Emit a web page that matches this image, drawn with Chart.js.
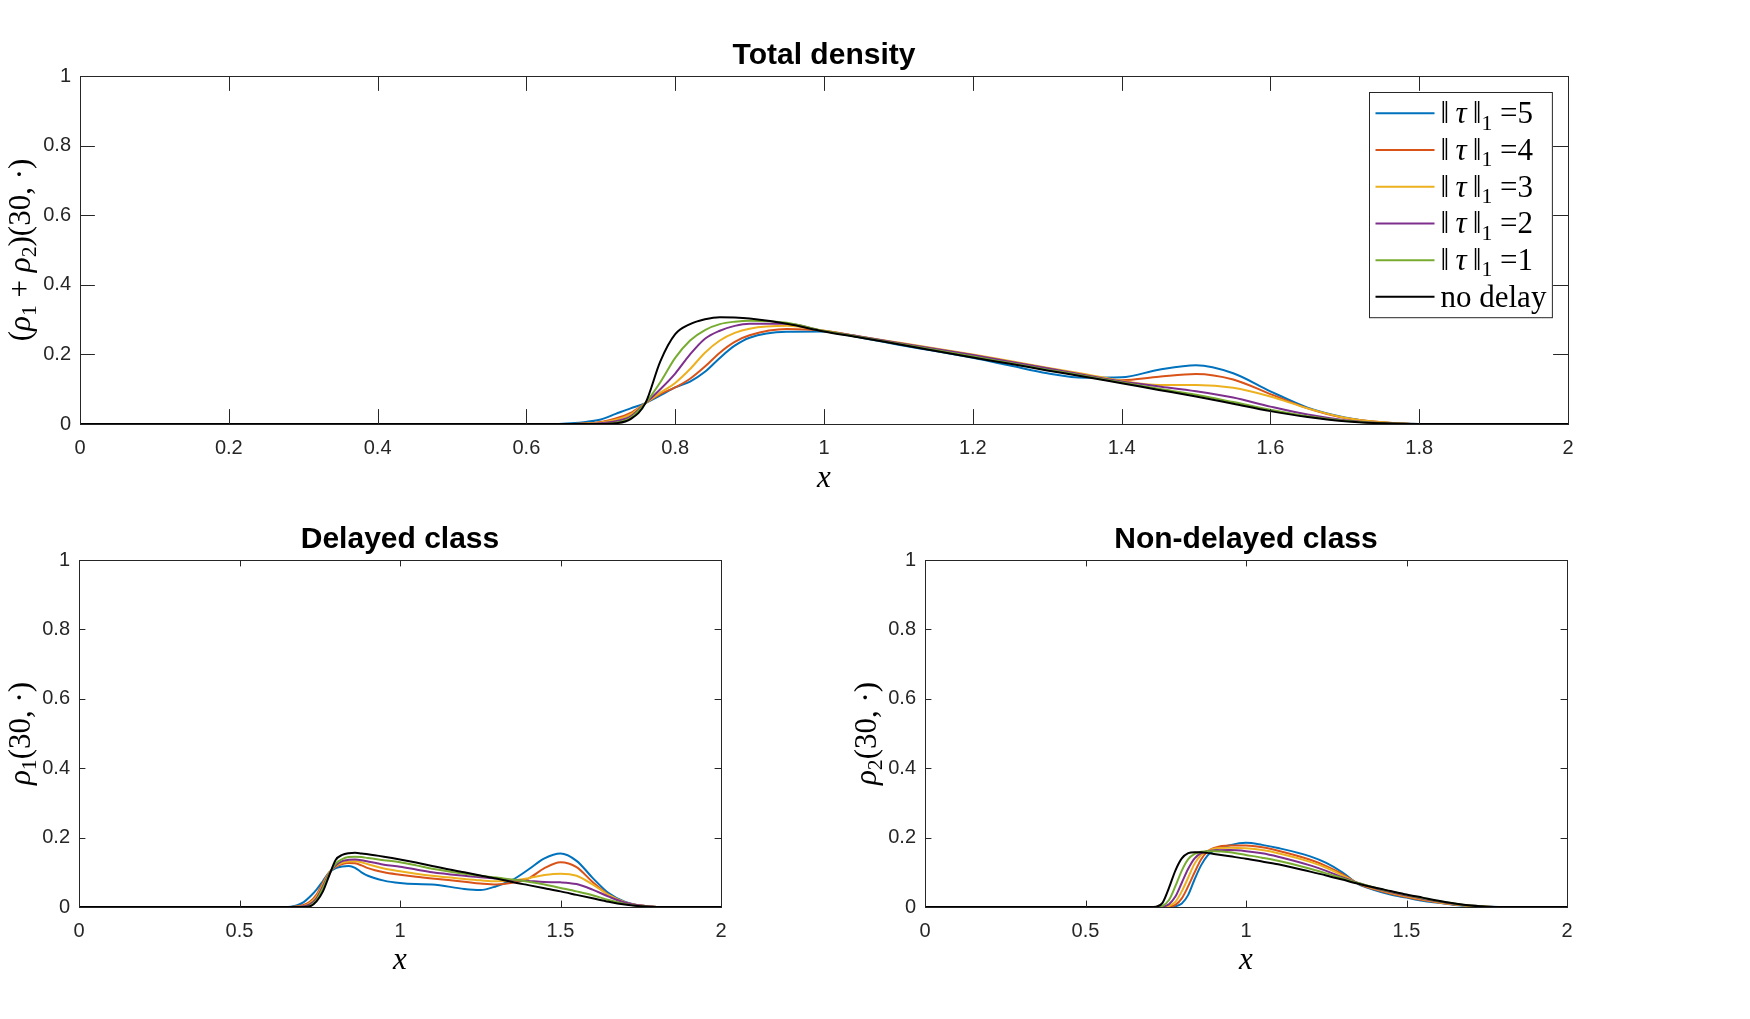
<!DOCTYPE html>
<html>
<head>
<meta charset="utf-8">
<script src="https://cdn.jsdelivr.net/npm/chart.js@4.4.0/dist/chart.umd.min.js"></script>
<style>
  html, body { margin: 0; padding: 0; background: #fff; width: 1750px; height: 1019px; overflow: hidden; }
  canvas { position: absolute; }
</style>
</head>
<body>
<canvas id="total" width="1750" height="500" style="left:0;top:0;width:1750px;height:500px"></canvas>
<canvas id="delayed" width="846" height="490" style="left:0;top:500px;width:846px;height:490px"></canvas>
<canvas id="nondelayed" width="904" height="490" style="left:846px;top:500px;width:904px;height:490px"></canvas>
<script>
// shared x grid
const xs = [0, 0.6, 0.64, 0.66, 0.68, 0.7, 0.72, 0.74, 0.76, 0.78, 0.8, 0.82, 0.84, 0.86, 0.88, 0.9, 0.95, 1.0, 1.05, 1.1, 1.2, 1.25, 1.3, 1.35, 1.4, 1.45, 1.5, 1.55, 1.6, 1.65, 1.7, 1.75, 1.8, 2.0];

const labels = ['‖τ‖_1 =5', '‖τ‖_1 =4', '‖τ‖_1 =3', '‖τ‖_1 =2', '‖τ‖_1 =1', 'no delay'];
const colors = ['#0072BD', '#D95319', '#EDB120', '#7E2F8E', '#77AC30', '#000000'];

// total density (rho1 + rho2)(30, .)
const total5 = [0,0,0,0.002,0.006,0.013,0.029,0.045,0.06,0.082,0.105,0.122,0.15,0.19,0.225,0.248,0.265,0.266,0.248,0.228,0.19,0.168,0.146,0.133,0.134,0.156,0.169,0.146,0.094,0.047,0.019,0.004,0,0];
const total4 = [0,0,0,0,0.002,0.006,0.016,0.032,0.06,0.086,0.105,0.13,0.165,0.205,0.236,0.255,0.273,0.268,0.25,0.232,0.196,0.177,0.157,0.139,0.126,0.136,0.144,0.128,0.086,0.045,0.017,0.005,0,0];
const total3 = [0,0,0,0,0.001,0.004,0.012,0.028,0.06,0.09,0.118,0.158,0.205,0.24,0.262,0.274,0.282,0.268,0.251,0.234,0.2,0.181,0.162,0.144,0.124,0.112,0.112,0.104,0.079,0.045,0.018,0.005,0,0];
const total2 = [0,0,0,0,0,0.002,0.008,0.022,0.06,0.1,0.145,0.2,0.245,0.268,0.282,0.288,0.288,0.267,0.251,0.233,0.198,0.179,0.16,0.141,0.122,0.108,0.094,0.076,0.05,0.027,0.011,0.003,0,0];
const total1 = [0,0,0,0,0,0,0.004,0.018,0.06,0.12,0.19,0.24,0.27,0.287,0.294,0.297,0.291,0.267,0.249,0.231,0.194,0.175,0.156,0.138,0.119,0.101,0.084,0.063,0.041,0.022,0.009,0.002,0,0];
const total0 = [0,0,0,0,0,0,0.002,0.014,0.06,0.18,0.258,0.287,0.301,0.307,0.306,0.303,0.288,0.266,0.248,0.229,0.191,0.173,0.154,0.136,0.117,0.098,0.079,0.058,0.037,0.02,0.008,0.002,0,0];

// delayed class rho1(30, .)
const rho1_5 = [0,0,0,0.001,0.005,0.014,0.03,0.05,0.075,0.1,0.112,0.117,0.118,0.113,0.1,0.09,0.076,0.069,0.066,0.065,0.052,0.049,0.06,0.078,0.108,0.14,0.154,0.133,0.084,0.04,0.015,0.004,0,0];
const rho1_4 = [0,0,0,0,0.002,0.006,0.016,0.036,0.07,0.1,0.116,0.124,0.127,0.126,0.12,0.112,0.1,0.093,0.087,0.082,0.073,0.068,0.065,0.07,0.082,0.112,0.129,0.115,0.072,0.035,0.013,0.004,0,0];
const rho1_3 = [0,0,0,0,0.001,0.003,0.012,0.03,0.065,0.1,0.118,0.127,0.131,0.132,0.129,0.123,0.111,0.103,0.096,0.09,0.081,0.077,0.074,0.076,0.083,0.092,0.096,0.09,0.065,0.035,0.014,0.004,0,0];
const rho1_2 = [0,0,0,0,0,0.002,0.008,0.025,0.06,0.097,0.12,0.132,0.136,0.137,0.135,0.131,0.122,0.116,0.108,0.1,0.09,0.086,0.082,0.078,0.075,0.072,0.071,0.066,0.05,0.03,0.013,0.004,0,0];
const rho1_1 = [0,0,0,0,0,0,0.004,0.02,0.055,0.095,0.125,0.138,0.144,0.145,0.144,0.141,0.135,0.129,0.12,0.11,0.096,0.09,0.085,0.079,0.073,0.065,0.055,0.045,0.034,0.02,0.009,0.002,0,0];
const rho1_0 = [0,0,0,0,0,0,0.002,0.016,0.045,0.092,0.136,0.15,0.155,0.156,0.154,0.152,0.145,0.137,0.128,0.118,0.1,0.091,0.082,0.072,0.063,0.054,0.045,0.035,0.025,0.015,0.007,0.002,0,0];

// non-delayed class rho2(30, .)
const rho2_5 = [0,0,0,0,0,0,0,0,0,0.002,0.01,0.035,0.08,0.12,0.148,0.163,0.178,0.185,0.179,0.17,0.146,0.127,0.1,0.066,0.049,0.036,0.027,0.018,0.012,0.006,0.002,0.001,0,0];
const rho2_4 = [0,0,0,0,0,0,0,0,0.001,0.006,0.025,0.06,0.1,0.137,0.16,0.17,0.177,0.177,0.172,0.162,0.136,0.118,0.095,0.067,0.051,0.039,0.029,0.02,0.013,0.007,0.003,0.001,0,0];
const rho2_3 = [0,0,0,0,0,0,0,0,0.003,0.015,0.045,0.085,0.125,0.15,0.162,0.168,0.171,0.169,0.164,0.155,0.13,0.113,0.091,0.068,0.053,0.041,0.031,0.022,0.014,0.008,0.003,0.001,0,0];
const rho2_2 = [0,0,0,0,0,0,0,0.001,0.008,0.03,0.07,0.11,0.14,0.155,0.161,0.163,0.164,0.161,0.155,0.145,0.12,0.104,0.086,0.069,0.055,0.043,0.033,0.024,0.016,0.009,0.004,0.001,0,0];
const rho2_1 = [0,0,0,0,0,0,0,0.003,0.02,0.06,0.105,0.138,0.153,0.159,0.161,0.161,0.158,0.15,0.142,0.133,0.11,0.097,0.083,0.069,0.056,0.045,0.035,0.026,0.017,0.01,0.004,0.001,0,0];
const rho2_0 = [0,0,0,0,0,0,0.001,0.012,0.055,0.105,0.14,0.155,0.158,0.158,0.156,0.153,0.146,0.139,0.131,0.123,0.102,0.091,0.079,0.067,0.056,0.046,0.036,0.027,0.018,0.01,0.004,0.001,0,0];

const xTicksTop = [0, 0.2, 0.4, 0.6, 0.8, 1, 1.2, 1.4, 1.6, 1.8, 2];
const xTicksBottom = [0, 0.5, 1, 1.5, 2];
const yTicks = [0, 0.2, 0.4, 0.6, 0.8, 1];

const axisColor = '#262626';
const sansFont = '"Liberation Sans", Arial, sans-serif';
const serifFont = '"Liberation Serif", "Times New Roman", serif';

// split "‖τ‖_1 =5" into pieces: greek letters / x italic, "_d" subscript
function parseMath(str) {
  const segs = [];
  for (let i = 0; i < str.length; i++) {
    let ch = str[i], sub = false;
    if (ch === '_') { sub = true; ch = str[++i]; }
    const it = 'ρτx'.includes(ch);
    const last = segs[segs.length - 1];
    if (last && last.i === it && last.sub === sub) last.t += ch;
    else segs.push({ t: ch, i: it, sub: sub });
  }
  return segs;
}

function segFont(s, size) {
  return (s.i ? 'italic ' : '') + (s.sub ? size * 0.7 : size) + 'px ' + serifFont;
}

function mathWidth(ctx, str, size) {
  let w = 0;
  parseMath(str).forEach(s => {
    ctx.font = segFont(s, size);
    w += ctx.measureText(s.t).width;
  });
  return w;
}

function drawMath(ctx, str, x, y, size, center) {
  let cx = center ? x - mathWidth(ctx, str, size) / 2 : x;
  ctx.textAlign = 'left';
  ctx.textBaseline = 'alphabetic';
  parseMath(str).forEach(s => {
    ctx.font = segFont(s, size);
    ctx.fillText(s.t, cx, y + (s.sub ? size * 0.2 : 0));
    cx += ctx.measureText(s.t).width;
  });
}

// box round the axes, inward ticks on all four sides, math y label, legend
const axesDecor = {
  id: 'axesDecor',
  afterDraw(chart, args, opts) {
    const { ctx, chartArea: a, scales } = chart;
    const len = (a.right - a.left) * 0.01;
    ctx.save();
    ctx.strokeStyle = axisColor;
    ctx.lineWidth = 1;
    ctx.beginPath();
    scales.x.ticks.forEach(t => {
      const p = Math.round(scales.x.getPixelForValue(t.value)) + 0.5;
      ctx.moveTo(p, a.bottom); ctx.lineTo(p, a.bottom - len);
      ctx.moveTo(p, a.top); ctx.lineTo(p, a.top + len);
    });
    scales.y.ticks.forEach(t => {
      const p = Math.round(scales.y.getPixelForValue(t.value)) + 0.5;
      ctx.moveTo(a.left, p); ctx.lineTo(a.left + len, p);
      ctx.moveTo(a.right, p); ctx.lineTo(a.right - len, p);
    });
    ctx.stroke();
    ctx.strokeRect(Math.round(a.left) + 0.5, Math.round(a.top) + 0.5, Math.round(a.right - a.left), Math.round(a.bottom - a.top));

    // y label
    ctx.fillStyle = '#000';
    ctx.save();
    ctx.translate(opts.yLabelX, (a.top + a.bottom) / 2);
    ctx.rotate(-Math.PI / 2);
    drawMath(ctx, opts.yLabel, 0, opts.labelSize * 0.25, opts.labelSize, true);
    ctx.restore();

    if (opts.legend) {
      const size = 31, rowH = 36.7;
      const sets = chart.data.datasets;
      let tw = 0;
      sets.forEach(d => { tw = Math.max(tw, mathWidth(ctx, d.text, size)); });
      const w = 71 + tw + 6, h = sets.length * rowH + 5;
      const left = Math.round(a.right - 16 - w) + 0.5, top = Math.round(a.top + 16) + 0.5;
      ctx.fillStyle = '#fff';
      ctx.fillRect(left, top, w, h);
      ctx.strokeStyle = axisColor;
      ctx.strokeRect(left, top, w, h);
      sets.forEach((d, i) => {
        const cy = top + 2.5 + rowH * (i + 0.5);
        ctx.strokeStyle = d.borderColor;
        ctx.lineWidth = 2;
        ctx.beginPath();
        ctx.moveTo(left + 6, cy); ctx.lineTo(left + 65, cy);
        ctx.stroke();
        ctx.fillStyle = '#000';
        drawMath(ctx, d.text, left + 71, cy + 10, size, false);
      });
    }
    ctx.restore();
  }
};

function makeChart(id, title, series, xTickVals, opt) {
  const datasets = series.map((vals, i) => ({
    label: labels[i],
    // legend text with the spacing of the typeset norm
    text: labels[i].replace(/‖τ‖_1 =/, '‖\u2009τ\u2009‖_1 ='),
    data: xs.map((x, k) => ({ x: x, y: vals[k] })),
    borderColor: colors[i],
    backgroundColor: colors[i],
    borderWidth: 2,
    pointRadius: 0,
    cubicInterpolationMode: 'monotone',
    order: series.length - 1 - i
  }));
  return new Chart(document.getElementById(id), {
    type: 'line',
    data: { datasets: datasets },
    plugins: [axesDecor],
    options: {
      responsive: false,
      animation: false,
      events: [],
      layout: { padding: { left: 0, right: opt.padRight, top: 0, bottom: 0 } },
      plugins: {
        legend: { display: false },
        tooltip: { enabled: false },
        title: {
          display: true,
          fullSize: false,
          text: title,
          color: '#000',
          font: { family: sansFont, size: 30, weight: 'bold', lineHeight: 1.2 },
          padding: { top: opt.titleTop, bottom: opt.titleBottom }
        },
        axesDecor: { yLabel: opt.yLabel, yLabelX: 22, labelSize: 31, legend: opt.legend }
      },
      scales: {
        x: {
          type: 'linear',
          min: 0, max: 2,
          afterBuildTicks: s => { s.ticks = xTickVals.map(v => ({ value: v })); },
          afterFit: s => { s.height = opt.xHeight; },
          grid: { display: false, drawTicks: false },
          border: { display: false },
          ticks: {
            autoSkip: false, maxRotation: 0, padding: 12,
            color: axisColor,
            font: { family: sansFont, size: 20 },
            callback: v => String(v)
          },
          title: {
            display: true, text: 'x', color: '#000',
            font: { family: serifFont, size: 31, style: 'italic', lineHeight: 1.2 },
            padding: { top: 0, bottom: opt.xTitleBottom }
          }
        },
        y: {
          type: 'linear',
          min: 0, max: 1,
          afterBuildTicks: s => { s.ticks = yTicks.map(v => ({ value: v })); },
          afterFit: s => { s.width = opt.yWidth; },
          grid: { display: false, drawTicks: false },
          border: { display: false },
          ticks: {
            padding: 9,
            color: axisColor,
            font: { family: sansFont, size: 20 },
            callback: v => String(v)
          }
        }
      }
    }
  });
}

makeChart('total', 'Total density',
  [total5, total4, total3, total2, total1, total0], xTicksTop,
  { padRight: 182, yWidth: 80, xHeight: 76, titleTop: 38, titleBottom: 2, xTitleBottom: 2.5,
    yLabel: '(ρ_1 + ρ_2)(30, ·)', legend: true });

makeChart('delayed', 'Delayed class',
  [rho1_5, rho1_4, rho1_3, rho1_2, rho1_1, rho1_0], xTicksBottom,
  { padRight: 125, yWidth: 79, xHeight: 83, titleTop: 21.5, titleBottom: 2.5, xTitleBottom: 10.5,
    yLabel: 'ρ_1(30, ·)', legend: false });

makeChart('nondelayed', 'Non-delayed class',
  [rho2_5, rho2_4, rho2_3, rho2_2, rho2_1, rho2_0], xTicksBottom,
  { padRight: 183, yWidth: 79, xHeight: 83, titleTop: 21.5, titleBottom: 2.5, xTitleBottom: 10.5,
    yLabel: 'ρ_2(30, ·)', legend: false });
</script>
</body>
</html>
